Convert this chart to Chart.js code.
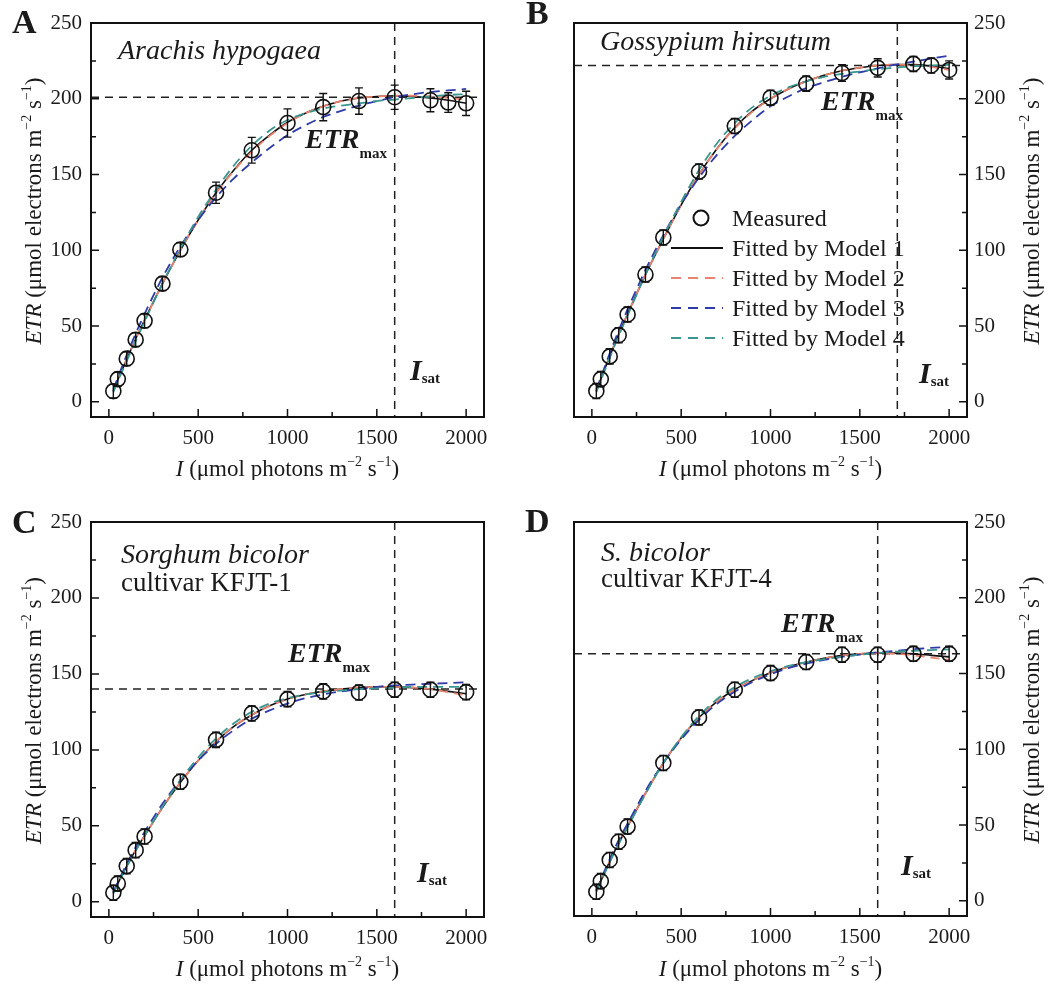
<!DOCTYPE html>
<html><head><meta charset="utf-8">
<script src="https://cdn.jsdelivr.net/npm/chart.js@4.4.1/dist/chart.umd.min.js"></script>
<style>
html,body{margin:0;padding:0;background:#fff;}
#wrap{position:relative;width:1049px;height:987px;overflow:hidden;background:#fff;}
canvas{position:absolute;}
</style></head><body>
<div id="wrap">
<canvas id="cA" width="524" height="480" style="left:0;top:0"></canvas>
<canvas id="cB" width="525" height="480" style="left:524px;top:0"></canvas>
<canvas id="cC" width="524" height="507" style="left:0;top:480px"></canvas>
<canvas id="cD" width="525" height="507" style="left:524px;top:480px"></canvas>
</div>
<script>
// ---------- data ----------
const xTicks = [0, 500, 1000, 1500, 2000];
const yTicks = [0, 50, 100, 150, 200, 250];
const fitI = [25,50,100,150,200,300,400,500,600,700,800,900,1000,1100,1200,1300,1400,1500,1600,1700,1800,1900,2000];

// Panel A: Arachis hypogaea
const A_I   = [25,50,100,150,200,300,400,600,800,1000,1200,1400,1600,1800,1900,2000];
const A_ETR = [7,15,28.5,41,53.5,78,100.5,138,166,184,194.5,198.5,201,199,197.5,197];
const A_SE  = [4.5,4.5,4.5,4.5,4.5,4.5,4.5,7,8.5,9.3,9,8.7,8,7.6,6.5,8];
const A_M1  = [7,14.5,28,41.5,54,78,100,120,138,153,166,176,184.5,190.5,195,198.5,200.5,201.5,202,201.5,200.5,199,197];
const A_M2  = [7,14.5,28,41.5,54,78,100,120,137.5,152.5,165,175.5,184,190.5,195,198.5,200.5,201.5,202,202,201.5,200.5,199.5];
const A_M3  = [8,16,31,45,58,82,102.5,120,135,147.5,158,167.5,176,182.5,188,192,195.5,198.5,201,203,204.5,205.5,206.5];
const A_M4  = [6.5,13.5,27,40,53,78,101,122,140,156,169,179,186,190.5,193.5,195.5,197,198.5,199.5,200.5,201.5,202.5,203];
const A_ref = {etrMax: 201, iSat: 1600};

// Panel B: Gossypium hirsutum
const B_I   = [25,50,100,150,200,300,400,600,800,1000,1200,1400,1600,1800,1900,2000];
const B_ETR = [7.2,15,30,44,57.7,84,108.5,152,182,200.7,210,217,220.4,223,222,219];
const B_SE  = [5,5,5,5,5,5,5,5,5,5,5,5.5,6,5,5,6];
const B_M1  = [7,15,30,44.5,58,84,107.5,130,150,167,181,192,200,206.5,211.5,215.5,218.5,220.5,222,222.5,222.5,221.5,220];
const B_M2  = [7,15,30,44.5,58,84,107.5,130,150,167,180.5,191.5,200,206.5,211.5,215.5,218.5,220.5,222,222.5,222,221,219];
const B_M3  = [8,16,32,47,61,87,110,130.5,148,163,175.5,186,195,201.5,207,211,214.5,217.5,220,222.5,224.5,226.5,228.5];
const B_M4  = [6.5,14,29,43.5,57,84,109,132,153,170.5,184,194.5,202,207.5,211.5,214.5,216.5,218,219.5,220.5,221.5,222,222.5];
const B_ref = {etrMax: 222, iSat: 1710};

// Panel C: Sorghum bicolor cultivar KFJT-1
const C_I   = [25,50,100,150,200,400,600,800,1000,1200,1400,1600,1800,2000];
const C_ETR = [6,12,23.5,34,43,79,106.6,124,133.4,138.5,137.8,139.6,139.6,138];
const C_SE  = [5,5,5,5,5,5,5,5,5,5,5,5,5,5];
const C_M1  = [6,12,23.5,34,43.5,62,78.5,93,105.5,115.5,123,129,133.5,136.5,138.5,140,141,141.5,141.5,141,140,138.5,137];
const C_M2  = [6,12,23.5,34,43.5,62,78.5,93,105.5,115.5,123,129,133.5,136.5,138.5,140,141,141.5,141.5,141,140,138,136];
const C_M3  = [6.5,13,25,36,46,64.5,80,93,104,113,120.5,126,130.5,134,136.5,138.5,140,141.5,142.5,143,143.5,144,144.5];
const C_M4  = [5.5,11.5,23,33.5,43.5,62.5,80,95,107.5,117.5,125,130.5,134,136.5,138,139,140,140.5,141,141.5,141.5,141.5,141.5];
const C_ref = {etrMax: 140, iSat: 1600};

// Panel D: S. bicolor cultivar KFJT-4
const D_I   = [25,50,100,150,200,400,600,800,1000,1200,1400,1600,1800,2000];
const D_ETR = [6,13,27,39,49,91,121,139.3,150.3,157.6,162.4,162.4,163,163];
const D_SE  = [5,5,5,5,5,5,5,5,5,5,5,5,5,5];
const D_M1  = [6.5,13,26,38,49,71,91,107.5,121,131.5,139.5,145.5,150.5,154.5,157.5,160,162,163,163.5,163.5,163,162,161];
const D_M2  = [6.5,13,26,38,49,71,91,107.5,121,131.5,139.5,145.5,150.5,154.5,157.5,160,162,163,163.5,163,162,160.5,159];
const D_M3  = [7,14,27.5,40,51,72.5,91,106.5,119.5,130,138,144.5,149.5,153.5,156.5,159,161,162.5,164,165,166,167,167.5];
const D_M4  = [6,12.5,25.5,37.5,48.5,70.5,91,108,122,133,141,147,151.5,155,157.5,159.5,161,162.5,163.5,164.5,165,165.5,166];
const D_ref = {etrMax: 163, iSat: 1600};

const seriesNames = ['Measured','Fitted by Model 1','Fitted by Model 2','Fitted by Model 3','Fitted by Model 4'];

// ---------- styles ----------
const SF = '"Liberation Serif","Times New Roman",serif';
const INK = '#1a1a1a';
const COLORS = ['#111111', '#111111', '#e8846f', '#2f3ca8', '#3a968e'];
const DASHES = [[], [], [9,6], [10,6], [10,6]];

function rich(ctx, parts, x, y, align) {
  let total = 0;
  parts.forEach(p => { ctx.font = p.f; p.w = ctx.measureText(p.t).width; total += p.w; });
  let cx = align === 'center' ? x - total / 2 : x;
  parts.forEach(p => { ctx.font = p.f; ctx.fillText(p.t, cx, y + (p.dy || 0)); cx += p.w; });
}
const titleParts = (lead, mid) => [
  {t: lead, f: `italic 23px ${SF}`},
  {t: mid + ' m', f: `23px ${SF}`},
  {t: '\u22122', f: `14px ${SF}`, dy: -10},
  {t: ' s', f: `23px ${SF}`},
  {t: '\u22121', f: `14px ${SF}`, dy: -10},
  {t: ')', f: `23px ${SF}`}
];

const decoPlugin = {
  id: 'deco',
  beforeDatasetsDraw(chart) {
    const o = chart.options.plugins.deco, ctx = chart.ctx, a = chart.chartArea;
    const xs = chart.scales.x, ys = chart.scales.y;
    ctx.save();
    ctx.strokeStyle = '#222'; ctx.lineWidth = 1.5; ctx.setLineDash([8,6]);
    const yy = ys.getPixelForValue(o.ref.etrMax), xx = xs.getPixelForValue(o.ref.iSat);
    ctx.beginPath(); ctx.moveTo(a.left, yy); ctx.lineTo(a.right, yy); ctx.stroke();
    ctx.beginPath(); ctx.moveTo(xx, a.top); ctx.lineTo(xx, a.bottom); ctx.stroke();
    ctx.restore();
  },
  afterDatasetsDraw(chart) {
    const o = chart.options.plugins.deco, ctx = chart.ctx;
    const xs = chart.scales.x, ys = chart.scales.y;
    ctx.save();
    ctx.strokeStyle = '#111'; ctx.lineWidth = 1.4;
    o.I.forEach((v, i) => {
      const px = xs.getPixelForValue(v);
      const y1 = ys.getPixelForValue(o.E[i] + o.SE[i]), y2 = ys.getPixelForValue(o.E[i] - o.SE[i]);
      ctx.beginPath();
      ctx.moveTo(px, y1); ctx.lineTo(px, y2);
      ctx.moveTo(px - 4, y1); ctx.lineTo(px + 4, y1);
      ctx.moveTo(px - 4, y2); ctx.lineTo(px + 4, y2);
      ctx.stroke();
    });
    ctx.restore();
  },
  afterDraw(chart) {
    const o = chart.options.plugins.deco, ctx = chart.ctx, a = chart.chartArea;
    const xs = chart.scales.x, ys = chart.scales.y;
    ctx.save();
    // frame
    ctx.strokeStyle = '#111'; ctx.lineWidth = 2; ctx.setLineDash([]);
    ctx.strokeRect(a.left, a.top, a.right - a.left, a.bottom - a.top);
    // ticks (inward)
    ctx.lineWidth = 1.5;
    ctx.beginPath();
    for (let v = 0; v <= 2000; v += 250) {
      const px = xs.getPixelForValue(v), L = (v % 500 === 0) ? 8 : 5;
      ctx.moveTo(px, a.bottom); ctx.lineTo(px, a.bottom - L);
    }
    for (let v = 0; v <= 250; v += 25) {
      const py = ys.getPixelForValue(v), L = (v % 50 === 0) ? 8 : 5;
      if (o.right) { ctx.moveTo(a.right, py); ctx.lineTo(a.right - L, py); }
      else { ctx.moveTo(a.left, py); ctx.lineTo(a.left + L, py); }
    }
    ctx.stroke();
    ctx.fillStyle = INK; ctx.textBaseline = 'alphabetic'; ctx.textAlign = 'left';
    // panel letter
    ctx.font = `bold 34px ${SF}`; ctx.fillText(o.letter, o.letterPos[0], o.letterPos[1]);
    // species
    ctx.font = `italic 28px ${SF}`; ctx.fillText(o.species, o.spPos[0], o.spPos[1]);
    if (o.cultivar) { ctx.font = `27px ${SF}`; ctx.fillText(o.cultivar, o.cuPos[0], o.cuPos[1]); }
    // ETRmax
    rich(ctx, [{t:'ETR', f:`italic bold 28px ${SF}`}, {t:'max', f:`bold 15px ${SF}`, dy:10}], o.etrPos[0], o.etrPos[1], 'left');
    // Isat
    rich(ctx, [{t:'I', f:`italic bold 30px ${SF}`}, {t:'sat', f:`bold 15px ${SF}`, dy:3}], o.isatPos[0], o.isatPos[1], 'left');
    // x title
    rich(ctx, titleParts('I', ' (\u03bcmol photons'), (a.left + a.right) / 2, o.xtY, 'center');
    // y title
    ctx.save();
    ctx.translate(o.ytX, (a.top + a.bottom) / 2 - 9);
    ctx.rotate(-Math.PI / 2);
    rich(ctx, titleParts('ETR', ' (\u03bcmol electrons'), 0, 0, 'center');
    ctx.restore();
    // legend
    if (o.legend) {
      const [lx, ly] = o.legend;
      seriesNames.forEach((name, k) => {
        const cy = ly + k * 30;
        if (k === 0) {
          ctx.beginPath(); ctx.strokeStyle = '#111'; ctx.lineWidth = 2;
          ctx.arc(lx + 30, cy, 7.5, 0, Math.PI * 2); ctx.stroke();
        } else {
          ctx.beginPath(); ctx.strokeStyle = COLORS[k]; ctx.lineWidth = 1.8;
          ctx.setLineDash(k === 1 ? [] : [10, 7]);
          ctx.moveTo(lx, cy); ctx.lineTo(lx + 52, cy); ctx.stroke();
          ctx.setLineDash([]);
        }
        ctx.fillStyle = INK; ctx.font = `24px ${SF}`;
        ctx.fillText(name, lx + 61, cy + 8);
      });
    }
    ctx.restore();
  }
};

function makePanel(id, P) {
  const toXY = (xs, ys) => xs.map((x, i) => ({x: x, y: ys[i]}));
  const fits = [P.m1, P.m2, P.m3, P.m4];
  const datasets = [{
    label: seriesNames[0], data: toXY(P.I, P.E), showLine: false,
    pointRadius: 7.5, pointHoverRadius: 7.5, pointBorderWidth: 1.6,
    pointBackgroundColor: 'rgba(0,0,0,0)', pointBorderColor: '#111', order: 0
  }];
  fits.forEach((f, k) => datasets.push({
    label: seriesNames[k + 1], data: toXY(fitI, f), showLine: true,
    borderColor: COLORS[k + 1], borderWidth: k === 0 ? 1.6 : 1.8, borderDash: DASHES[k + 1],
    pointRadius: 0, cubicInterpolationMode: 'monotone', fill: false, order: 4 - k
  }));
  const g = P.geo;
  const pad = P.right
    ? {left: g.l, top: g.t, right: 0, bottom: 0}
    : {left: 0, top: g.t, right: g.w - g.r, bottom: 0};
  new Chart(document.getElementById(id), {
    type: 'scatter',
    data: {datasets},
    options: {
      responsive: false, animation: false, devicePixelRatio: 1,
      layout: {padding: pad},
      plugins: {
        legend: {display: false}, tooltip: {enabled: false},
        deco: Object.assign({I: P.I, E: P.E, SE: P.SE, ref: P.ref, right: P.right}, P.deco)
      },
      scales: {
        x: {
          type: 'linear', min: -100, max: 2100,
          afterBuildTicks: s => { s.ticks = xTicks.map(v => ({value: v})); },
          afterFit: s => { s.height = g.h - g.b; },
          grid: {display: false, drawTicks: false}, border: {display: false},
          ticks: {padding: 9, color: INK, font: {family: SF, size: 21}, maxRotation: 0, autoSkip: false,
                  callback: v => String(v)}
        },
        y: {
          type: 'linear', min: -10, max: 250, position: P.right ? 'right' : 'left',
          afterBuildTicks: s => { s.ticks = yTicks.map(v => ({value: v})); },
          afterFit: s => { s.width = P.right ? (g.w - g.r) : g.l; },
          grid: {display: false, drawTicks: false}, border: {display: false},
          ticks: {padding: P.right ? 7 : 9, color: INK, font: {family: SF, size: 21}, autoSkip: false,
                  callback: v => String(v)}
        }
      }
    },
    plugins: [decoPlugin]
  });
}

makePanel('cA', {I: A_I, E: A_ETR, SE: A_SE, m1: A_M1, m2: A_M2, m3: A_M3, m4: A_M4, ref: A_ref, right: false,
  geo: {w: 524, h: 480, l: 91, t: 23, r: 484, b: 417},
  deco: {letter: 'A', letterPos: [12, 33], species: 'Arachis hypogaea', spPos: [118, 59],
    etrPos: [305, 148], isatPos: [410, 380], xtY: 476, ytX: 41}});
makePanel('cB', {I: B_I, E: B_ETR, SE: B_SE, m1: B_M1, m2: B_M2, m3: B_M3, m4: B_M4, ref: B_ref, right: true,
  geo: {w: 525, h: 480, l: 50, t: 23, r: 443, b: 417},
  deco: {letter: 'B', letterPos: [2, 24], species: 'Gossypium hirsutum', spPos: [76, 50],
    etrPos: [297, 110], isatPos: [395, 383], xtY: 476, ytX: 515, legend: [147, 218]}});
makePanel('cC', {I: C_I, E: C_ETR, SE: C_SE, m1: C_M1, m2: C_M2, m3: C_M3, m4: C_M4, ref: C_ref, right: false,
  geo: {w: 524, h: 507, l: 91, t: 42, r: 484, b: 437},
  deco: {letter: 'C', letterPos: [12, 53], species: 'Sorghum bicolor', spPos: [121, 83],
    cultivar: 'cultivar KFJT-1', cuPos: [121, 111],
    etrPos: [288, 182], isatPos: [417, 402], xtY: 496, ytX: 41}});
makePanel('cD', {I: D_I, E: D_ETR, SE: D_SE, m1: D_M1, m2: D_M2, m3: D_M3, m4: D_M4, ref: D_ref, right: true,
  geo: {w: 525, h: 507, l: 50, t: 42, r: 443, b: 436},
  deco: {letter: 'D', letterPos: [1, 52], species: 'S. bicolor', spPos: [77, 81],
    cultivar: 'cultivar KFJT-4', cuPos: [77, 107],
    etrPos: [257, 152], isatPos: [377, 395], xtY: 496, ytX: 515}});
</script>
</body></html>
